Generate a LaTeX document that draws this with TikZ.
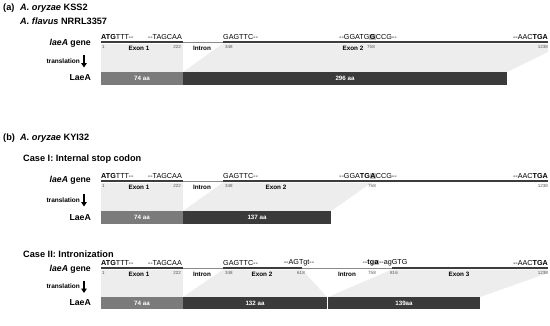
\documentclass[tikz,border=0pt]{standalone}
\usepackage{fontspec}
\setmainfont{Liberation Sans}
\usetikzlibrary{arrows.meta}
\definecolor{shadec}{HTML}{EDEDED}
\definecolor{exbar}{HTML}{7B7B7B}
\definecolor{dkbar}{HTML}{3A3A3A}
\definecolor{geneline}{HTML}{3C3C3C}
\definecolor{intronline}{HTML}{8A8A8A}
\definecolor{hlgray}{HTML}{C4C4C4}
\definecolor{numgray}{HTML}{555555}
\newcommand{\hlbase}[1]{{\setlength{\fboxsep}{0.4pt}\colorbox{hlgray}{#1}}}
\newcommand{\dd}{-{}-}
\tikzset{
  head/.style={font=\fontsize{9.2}{11}\selectfont\bfseries, anchor=west, inner sep=0pt},
  rowlab/.style={font=\fontsize{8.7}{10}\selectfont\bfseries, anchor=east, inner sep=0pt},
  trans/.style={font=\fontsize{6.5}{8}\selectfont\bfseries, anchor=east, inner sep=0pt},
  seq/.style={font=\fontsize{7.2}{8}\selectfont, inner sep=0pt},
  num/.style={font=\fontsize{4.5}{5}\selectfont, text=numgray, inner sep=0pt},
  exlab/.style={font=\fontsize{6.3}{7}\selectfont\bfseries, inner sep=0pt},
  bartxt/.style={font=\fontsize{6.2}{8}\selectfont\bfseries, text=white, inner sep=0pt},
  exonln/.style={draw=geneline, line width=1.6pt},
  intronln/.style={draw=intronline, line width=0.8pt},
  tarrow/.style={draw=black, line width=1.6pt, -{Triangle[width=5.5pt,length=4.5pt]}},
}
\begin{document}
\begin{tikzpicture}[x=1pt,y=-1pt]
\useasboundingbox (0,0) rectangle (550,325);
% ---------- panel (a) headers
\node[head] (a-lab) at (3,8) {(a)};
\node[head] (a-sp1) at (20,8) {\textit{A. oryzae} KSS2};
\node[head] (a-sp2) at (20,21) {\textit{A. flavus} NRRL3357};
% ---------- panel (a) gene
\begin{scope}[shift={(0,42)}]
  \fill[shadec] (101,1.5) rectangle (183,30);
  \fill[shadec] (223,1.5) -- (548,1.5) -- (548,10) -- (507,30) -- (183,30) -- cycle;
  \draw[intronln] (183,0) -- (223,0);
  \draw[exonln] (101,0) -- (183,0);
  \draw[exonln] (223,0) -- (548,0);
  \fill[exbar] (101,30) rectangle (183,43);
  \fill[dkbar] (183,30) rectangle (507,43);
  \node[rowlab] (a-gene) at (91,1.5) {\textit{laeA} gene};
  \node[trans] (a-trans) at (80,19) {translation};
  \coordinate (a-arS) at (84,13); \coordinate (a-arE) at (84,25.5);
  \draw[tarrow] (a-arS) -- (a-arE);
  \node[rowlab] (a-laea) at (91,36) {LaeA};
  \node[seq, anchor=west] (a-s1) at (101,-5) {\textbf{ATG}TTT\dd};
  \node[seq, anchor=east] (a-s2) at (182,-5) {\dd TAGCAA};
  \node[seq, anchor=west] (a-s3) at (223,-5) {GAGTTC\dd};
  \node[seq, anchor=west] (a-s4) at (339,-5) {\dd GGATG\hlbase{\textbf{G}}CCG\dd};
  \node[seq, anchor=east] (a-s5) at (548,-5) {\dd AAC\textbf{TGA}};
  \node[num, anchor=west] (a-n1) at (102,5) {1};
  \node[num, anchor=east] (a-n2) at (181,5) {222};
  \node[num, anchor=west] (a-n3) at (225,5) {348};
  \node[num] (a-n4) at (371,5) {758};
  \node[num, anchor=east] (a-n5) at (548,5) {1238};
  \node[exlab] (a-e1) at (139,6.5) {Exon 1};
  \node[exlab] (a-i1) at (202,6.5) {Intron};
  \node[exlab] (a-e2) at (353,6.5) {Exon 2};
  \node[bartxt] (a-b1) at (142,36.5) {74 aa};
  \node[bartxt] (a-b2) at (345,36.5) {296 aa};
\end{scope}
% ---------- panel (b) headers
\node[head] (b-lab) at (3,138) {(b)};
\node[head] (b-sp1) at (20,138) {\textit{A. oryzae} KYI32};
\node[head] (c1-lab) at (23,159) {Case I: Internal stop codon};
% ---------- Case I
\begin{scope}[shift={(0,181)}]
  \fill[shadec] (101,1.5) rectangle (183,30);
  \fill[shadec] (223,1.5) -- (372,1.5) -- (331,30) -- (183,30) -- cycle;
  \draw[intronln] (183,0) -- (223,0);
  \draw[exonln] (101,0) -- (183,0);
  \draw[exonln] (223,0) -- (548,0);
  \fill[exbar] (101,30) rectangle (183,43);
  \fill[dkbar] (183,30) rectangle (331,43);
  \node[rowlab] (c1-gene) at (91,-1) {\textit{laeA} gene};
  \node[trans] (c1-trans) at (80,19) {translation};
  \coordinate (c1-arS) at (84,13); \coordinate (c1-arE) at (84,25.5);
  \draw[tarrow] (c1-arS) -- (c1-arE);
  \node[rowlab] (c1-laea) at (91,37) {LaeA};
  \node[seq, anchor=west] (c1-s1) at (101,-5) {\textbf{ATG}TTT\dd};
  \node[seq, anchor=east] (c1-s2) at (182,-5) {\dd TAGCAA};
  \node[seq, anchor=west] (c1-s3) at (223,-5) {GAGTTC\dd};
  \node[seq, anchor=west] (c1-s4) at (339,-5) {\dd GGA\textbf{TG}\hlbase{\textbf{A}}CCG\dd};
  \node[seq, anchor=east] (c1-s5) at (548,-5) {\dd AAC\textbf{TGA}};
  \node[num, anchor=west] (c1-n1) at (102,5) {1};
  \node[num, anchor=east] (c1-n2) at (181,5) {222};
  \node[num, anchor=west] (c1-n3) at (225,5) {348};
  \node[num] (c1-n4) at (372,5) {758};
  \node[num, anchor=east] (c1-n5) at (548,5) {1238};
  \node[exlab] (c1-e1) at (139,6.5) {Exon 1};
  \node[exlab] (c1-i1) at (202,6.5) {Intron};
  \node[exlab] (c1-e2) at (276,6.5) {Exon 2};
  \node[bartxt] (c1-b1) at (142,36.5) {74 aa};
  \node[bartxt] (c1-b2) at (257,36.5) {137 aa};
\end{scope}
% ---------- Case II
\node[head] (c2-lab) at (23,254) {Case II: Intronization};
\begin{scope}[shift={(0,268)}]
  \fill[shadec] (101,1.5) rectangle (183,29);
  \fill[shadec] (223,1.5) -- (302,1.5) -- (327,29) -- (183,29) -- cycle;
  \fill[shadec] (392,1.5) -- (548,1.5) -- (548,5) -- (480,29) -- (328,29) -- cycle;
  \draw[intronln] (183,0) -- (223,0);
  \draw[intronln] (302,0) -- (392,0);
  \draw[exonln] (101,0) -- (183,0);
  \draw[exonln] (223,0) -- (302,0);
  \draw[exonln] (392,0) -- (548,0);
  \fill[exbar] (101,29) rectangle (183,41);
  \fill[dkbar] (183,29) rectangle (480,41);
  \draw[white, line width=0.6pt] (327.5,29) -- (327.5,41);
  \node[rowlab] (c2-gene) at (91,1) {\textit{laeA} gene};
  \node[trans] (c2-trans) at (80,18.5) {translation};
  \coordinate (c2-arS) at (84,12.5); \coordinate (c2-arE) at (84,25);
  \draw[tarrow] (c2-arS) -- (c2-arE);
  \node[rowlab] (c2-laea) at (91,34.5) {LaeA};
  \node[seq, anchor=west] (c2-s1) at (101,-5) {\textbf{ATG}TTT\dd};
  \node[seq, anchor=east] (c2-s2) at (182,-5) {\dd TAGCAA};
  \node[seq, anchor=west] (c2-s3) at (223,-5) {GAGTTC\dd};
  \node[seq] (c2-s4) at (299,-5) {\dd AGTgt\dd};
  \node[seq] (c2-s5) at (385,-5) {\dd\textbf{tg}\hlbase{\textbf{a}}\dd agGTG};
  \node[seq, anchor=east] (c2-s6) at (548,-5) {\dd AAC\textbf{TGA}};
  \node[num, anchor=west] (c2-n1) at (102,5) {1};
  \node[num, anchor=east] (c2-n2) at (181,5) {222};
  \node[num, anchor=west] (c2-n3) at (225,5) {348};
  \node[num] (c2-n4) at (301,5) {618};
  \node[num] (c2-n5) at (372,5) {758};
  \node[num] (c2-n6) at (394,5) {816};
  \node[num, anchor=east] (c2-n7) at (548,5) {1238};
  \node[exlab] (c2-e1) at (139,6.5) {Exon 1};
  \node[exlab] (c2-i1) at (202,6.5) {Intron};
  \node[exlab] (c2-e2) at (262,6.5) {Exon 2};
  \node[exlab] (c2-i2) at (347,6.5) {Intron};
  \node[exlab] (c2-e3) at (459,6.5) {Exon 3};
  \node[bartxt] (c2-b1) at (142,35) {74 aa};
  \node[bartxt] (c2-b2) at (255,35) {132 aa};
  \node[bartxt] (c2-b3) at (404,35) {139aa};
\end{scope}
\end{tikzpicture}
\end{document}
